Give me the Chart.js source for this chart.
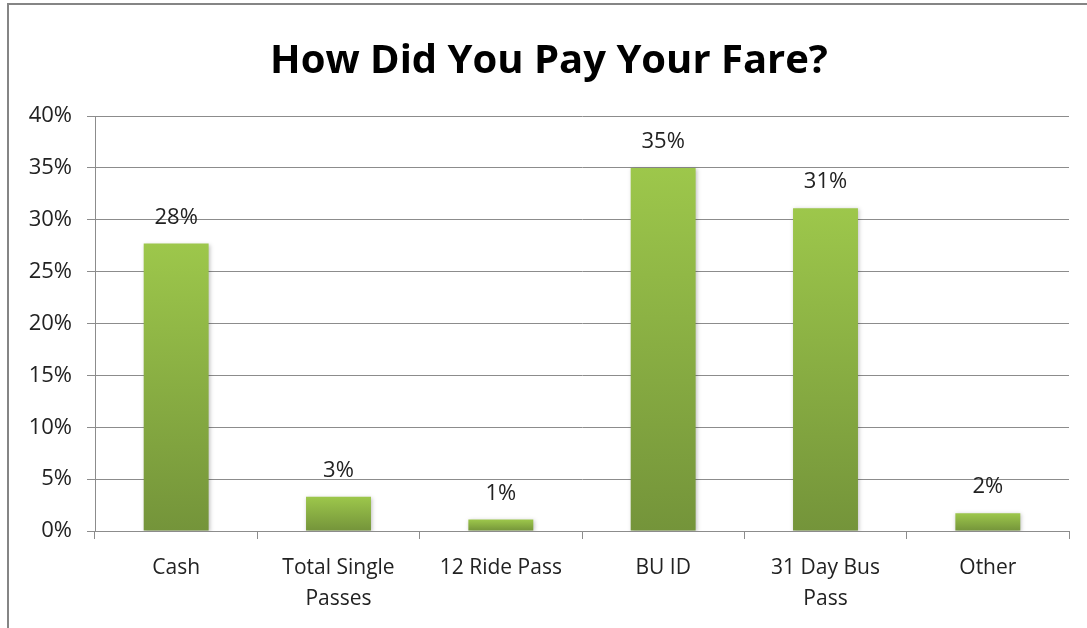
<!DOCTYPE html>
<html>
<head>
<meta charset="utf-8">
<script src="https://cdn.jsdelivr.net/npm/chart.js@4/dist/chart.umd.min.js"></script>
<style>
  html, body { margin: 0; padding: 0; background: #fff; overflow: hidden; }
  canvas { display: block; }
</style>
</head>
<body>
<canvas id="myChart" width="1087" height="628"></canvas>
<script>
// values (percent of riders)
const categories = ['Cash', ['Total Single', 'Passes'], '12 Ride Pass', 'BU ID', ['31 Day Bus', 'Pass'], 'Other'];
const shares = [27.7, 3.3, 1.1, 35.0, 31.1, 1.7];
const tickValues = [0, 5, 10, 15, 20, 25, 30, 35, 40];
const chartTitle = 'How Did You Pay Your Fare?';

const fontFamily = "'Open Sans', 'Noto Sans', sans-serif";

// green gradient per bar, light on top and darker at the base
function barFill(context) {
  const chart = context.chart;
  const area = chart.chartArea;
  if (!area) return '#8db543';
  const yScale = chart.scales.y;
  const v = context.parsed ? context.parsed.y : 0;
  const top = yScale.getPixelForValue(v);
  const bottom = yScale.getPixelForValue(0);
  const g = chart.ctx.createLinearGradient(0, top, 0, bottom);
  g.addColorStop(0, '#9dc74b');
  g.addColorStop(1, '#74943a');
  return g;
}

// grey frame round the chart (right and bottom run off the picture) and the title,
// centred on the frame rather than on the plot
const frame = {
  id: 'frame',
  beforeDraw(chart) {
    const c = chart.ctx;
    c.save();
    c.strokeStyle = '#858585';
    c.lineWidth = 2;
    c.beginPath();
    c.moveTo(8, chart.height);
    c.lineTo(8, 4);
    c.lineTo(chart.width, 4);
    c.stroke();
    c.font = 'bold 40px ' + fontFamily;
    c.fillStyle = '#000';
    c.textAlign = 'center';
    c.textBaseline = 'middle';
    c.fillText(chartTitle, 549, 62);
    c.restore();
  }
};

// labels over the bars, plus a soft shadow on the bars
const valueLabels = {
  id: 'valueLabels',
  beforeDatasetDraw(chart) {
    const c = chart.ctx;
    c.save();
    c.shadowColor = 'rgba(0,0,0,0.25)';
    c.shadowBlur = 4;
    c.shadowOffsetX = 1;
    c.shadowOffsetY = 1;
  },
  afterDatasetDraw(chart) {
    chart.ctx.restore();
  },
  afterDatasetsDraw(chart) {
    const c = chart.ctx;
    const meta = chart.getDatasetMeta(0);
    c.save();
    c.font = '22px ' + fontFamily;
    c.fillStyle = '#222';
    c.textAlign = 'center';
    c.textBaseline = 'alphabetic';
    meta.data.forEach((bar, i) => {
      c.fillText(Math.round(shares[i]) + '%', bar.x, bar.y - 20);
    });
    c.restore();
  }
};

const ctx = document.getElementById('myChart').getContext('2d');
const myChart = new Chart(ctx, {
  type: 'bar',
  data: {
    labels: categories,
    datasets: [{
      data: shares,
      backgroundColor: barFill,
      borderWidth: 0,
      categoryPercentage: 1,
      barPercentage: 0.4
    }]
  },
  options: {
    responsive: false,
    animation: false,
    layout: { padding: { left: 0, right: 18, top: 116, bottom: 0 } },
    plugins: {
      legend: { display: false },
      tooltip: { enabled: false },
      title: { display: false }
    },
    scales: {
      y: {
        min: 0,
        max: 40,
        afterBuildTicks(scale) {
          scale.ticks = tickValues.map(v => ({ value: v }));
        },
        afterFit(scale) { scale.width = 95; },
        ticks: {
          callback: v => v + '%',
          color: '#222',
          padding: 15,
          font: { family: fontFamily, size: 22 }
        },
        grid: { color: '#8c8c8c', lineWidth: 1, tickLength: 8 },
        border: { color: '#8c8c8c', width: 1 }
      },
      x: {
        afterFit(scale) { scale.height = 97; },
        ticks: {
          color: '#222',
          padding: 13,
          maxRotation: 0,
          font: { family: fontFamily, size: 21, lineHeight: 1.5 }
        },
        grid: { offset: true, drawOnChartArea: false, drawTicks: true, tickLength: 8, color: '#8c8c8c' },
        border: { color: '#8c8c8c', width: 1 }
      }
    }
  },
  plugins: [frame, valueLabels]
});
</script>
</body>
</html>
